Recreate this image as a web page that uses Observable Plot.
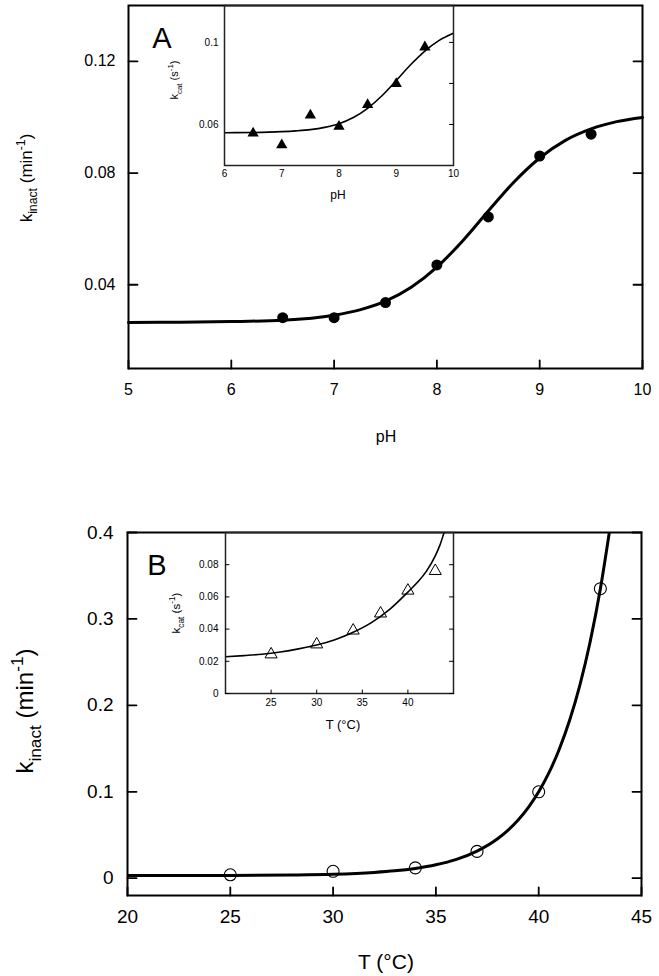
<!DOCTYPE html>
<html><head><meta charset="utf-8">
<script src="https://cdn.jsdelivr.net/npm/d3@7"></script>
<script src="https://cdn.jsdelivr.net/npm/@observablehq/plot@0.6"></script>
<style>
body{margin:0;background:#fff;}
#wrap{position:relative;width:659px;height:976px;overflow:hidden;background:#fff;}
#wrap svg{position:absolute;left:0;overflow:visible;}
</style></head><body><div id="wrap"></div>
<script>
// ---------- Panel A (main): k_inact vs pH ----------
const phA = [6.5, 7, 7.5, 8, 8.5, 9, 9.5];
const kinactA = [0.0282, 0.0282, 0.0336, 0.0471, 0.0643, 0.0861, 0.0939];
const fitPhA = [5, 5.5, 6, 6.5, 7, 7.25, 7.5, 7.75, 8, 8.25, 8.5, 8.75, 9, 9.25, 9.5, 9.75, 10];
const fitKinactA = [0.0265, 0.0266, 0.0268, 0.0273, 0.0291, 0.0310, 0.0341, 0.0391, 0.0463, 0.0557, 0.0664, 0.0768, 0.0854, 0.0917, 0.0958, 0.0984, 0.0999];
const xTicksA = [5, 6, 7, 8, 9, 10];
const yTicksA = [0.04, 0.08, 0.12];

// ---------- Panel A (inset): k_cat vs pH ----------
const phInsetA = [6.5, 7, 7.5, 8, 8.5, 9, 9.5];
const kcatA = [0.0557, 0.0500, 0.0645, 0.0590, 0.0696, 0.0798, 0.0977];
const fitPhInsetA = [6, 6.5, 7, 7.25, 7.5, 7.75, 8, 8.25, 8.5, 8.75, 9, 9.25, 9.5, 9.75, 10];
const fitKcatA = [0.0560, 0.0561, 0.0565, 0.0569, 0.0575, 0.0586, 0.0604, 0.0634, 0.0679, 0.0740, 0.0814, 0.0891, 0.0958, 0.1010, 0.1045];
const xTicksInsetA = [6, 7, 8, 9, 10];
const yTicksInsetA = [0.06, 0.08, 0.1];
const yLabelsInsetA = ["0.06", "", "0.1"];

// ---------- Panel B (main): k_inact vs T ----------
const tB = [25, 30, 34, 37, 40, 43];
const kinactB = [0.004, 0.008, 0.012, 0.031, 0.100, 0.335];
const fitTB = [20, 25, 28, 30, 32, 33, 34, 35, 36, 37, 38, 38.5, 39, 39.5, 40, 40.5, 41, 41.5, 42, 42.5, 43, 43.5];
const fitKinactB = [0.0030, 0.0032, 0.0037, 0.0046, 0.0067, 0.0085, 0.0113, 0.0155, 0.0218, 0.0314, 0.0457, 0.0554, 0.0674, 0.0820, 0.1000, 0.1221, 0.1492, 0.1824, 0.2232, 0.2733, 0.3349, 0.4104];
const xTicksB = [20, 25, 30, 35, 40, 45];
const yTicksB = [0, 0.1, 0.2, 0.3, 0.4];

// ---------- Panel B (inset): k_cat vs T ----------
const tInsetB = [25, 30, 34, 37, 40, 43];
const kcatB = [0.0243, 0.0305, 0.0391, 0.0497, 0.0639, 0.0761];
const fitTInsetB = [20, 22, 24, 26, 28, 30, 32, 34, 36, 38, 40, 41, 42, 43, 43.5, 44, 44.5];
const fitKcatB = [0.0228, 0.0235, 0.0244, 0.0258, 0.0277, 0.0301, 0.0334, 0.0380, 0.0440, 0.0522, 0.0630, 0.0688, 0.0757, 0.0855, 0.0920, 0.1005, 0.1090];
const xTicksInsetB = [25, 30, 35, 40];
const yTicksInsetB = [0, 0.02, 0.04, 0.06, 0.08];

const zip = (xs, ys) => xs.map((x, i) => ({x, y: ys[i]}));
const FONT = "'Liberation Sans', Arial, Helvetica, sans-serif";
const wrap = document.getElementById("wrap");
function place(svg, top) { svg.style.top = top + "px"; wrap.appendChild(svg); return svg; }
const baseStyle = {fontFamily: FONT, background: "transparent", color: "#000", overflow: "visible"};

// inward tick marks as short vectors anchored on the frame
const tickLine = {draw(context, l) { context.moveTo(0, 0); context.lineTo(0, -l); }};
function inTicksBottom(ticks, len, sw) {
  return Plot.vector(ticks, {x: d => d, frameAnchor: "bottom", length: len, rotate: 0, anchor: "start", shape: tickLine, stroke: "#000", strokeWidth: sw});
}
function inTicksLeft(ticks, len, sw) {
  return Plot.vector(ticks, {y: d => d, frameAnchor: "left", length: len, rotate: 90, anchor: "start", shape: tickLine, stroke: "#000", strokeWidth: sw});
}
function inTicksRight(ticks, len, sw) {
  return Plot.vector(ticks, {y: d => d, frameAnchor: "right", length: len, rotate: -90, anchor: "start", shape: tickLine, stroke: "#000", strokeWidth: sw});
}

function richText(svg, {x, y, rotate = 0, size, anchor = "middle", parts}) {
  const t = d3.select(svg).append("text")
    .attr("transform", `translate(${x},${y}) rotate(${rotate})`)
    .attr("text-anchor", anchor)
    .attr("font-family", FONT)
    .attr("font-size", size)
    .attr("fill", "#000");
  let cur = 0;
  for (const [s, kind] of parts) {
    const target = kind === "sub" ? 0.32 * size : kind === "sup" ? -0.42 * size : 0;
    t.append("tspan")
      .attr("dy", target - cur)
      .attr("font-size", kind ? size * 0.72 : size)
      .text(s);
    cur = target;
  }
  return t;
}

// ===== Main A =====
const mainA = place(Plot.plot({
  width: 659, height: 460,
  marginLeft: 128, marginRight: 17, marginTop: 5, marginBottom: 92,
  style: baseStyle,
  x: {domain: [5, 10]},
  y: {domain: [0.01, 0.14]},
  marks: [
    Plot.line(zip(fitPhA, fitKinactA), {x: "x", y: "y", stroke: "#000", strokeWidth: 3, curve: "monotone-x"}),
    Plot.dot(zip(phA, kinactA), {x: "x", y: "y", r: 5.5, fill: "#000", stroke: "none"}),
    Plot.frame({stroke: "#000", strokeWidth: 2}),
    inTicksBottom(xTicksA, 8, 1.8),
    inTicksLeft(yTicksA, 9, 1.8),
    inTicksRight(yTicksA, 9, 1.8),
    Plot.axisX({anchor: "bottom", ticks: xTicksA, tickSize: 0, tickPadding: 15, fontSize: 16, label: null, tickFormat: d => String(d)}),
    Plot.axisY({anchor: "left", ticks: yTicksA, tickSize: 0, tickPadding: 13, fontSize: 16, label: null, tickFormat: d => String(d)})
  ]
}), 0);
richText(mainA, {x: 32, y: 178, rotate: -90, size: 17, parts: [["k"], ["inact", "sub"], [" (min"], ["-1", "sup"], [")"]]});
richText(mainA, {x: 386, y: 442, size: 16, parts: [["pH"]]});
richText(mainA, {x: 162, y: 48, size: 29, parts: [["A"]]});

// ===== Inset A =====
const insetA = place(Plot.plot({
  width: 659, height: 460,
  marginLeft: 224, marginRight: 206, marginTop: 5, marginBottom: 295,
  style: baseStyle,
  x: {domain: [6, 10]},
  y: {domain: [0.04, 0.118]},
  marks: [
    Plot.line(zip(fitPhInsetA, fitKcatA), {x: "x", y: "y", stroke: "#000", strokeWidth: 1.6, curve: "monotone-x", clip: true}),
    Plot.dot(zip(phInsetA, kcatA), {x: "x", y: "y", symbol: "triangle", r: 4.2, fill: "#000", stroke: "none"}),
    Plot.frame({stroke: "#222", strokeWidth: 1.5}),
    inTicksRight(yTicksInsetA, 4, 1),
    Plot.axisX({anchor: "bottom", ticks: xTicksInsetA, tickSize: 0, tickPadding: 4, fontSize: 10, label: null, tickFormat: d => String(d)}),
    Plot.axisY({anchor: "left", ticks: yTicksInsetA, tickSize: 0, tickPadding: 6, fontSize: 10, label: null, tickFormat: (d, i) => yLabelsInsetA[i]})
  ]
}), 0);
richText(insetA, {x: 178, y: 80, rotate: -90, size: 11, parts: [["k"], ["cat", "sub"], [" (s"], ["-1", "sup"], [")"]]});
richText(insetA, {x: 338, y: 199, size: 12, parts: [["pH"]]});

// ===== Main B =====
const mainB = place(Plot.plot({
  width: 659, height: 516,
  marginLeft: 127, marginRight: 18, marginTop: 72, marginBottom: 81,
  style: baseStyle,
  x: {domain: [20, 45]},
  y: {domain: [-0.02, 0.4]},
  marks: [
    Plot.line(zip(fitTB, fitKinactB), {x: "x", y: "y", stroke: "#000", strokeWidth: 3, curve: "monotone-x", clip: true}),
    Plot.dot(zip(tB, kinactB), {x: "x", y: "y", r: 6, fill: "none", stroke: "#000", strokeWidth: 1.1}),
    Plot.frame({stroke: "#000", strokeWidth: 2}),
    inTicksBottom(xTicksB, 8, 1.8),
    inTicksLeft(yTicksB, 9, 1.8),
    inTicksRight(yTicksB, 9, 1.8),
    Plot.axisX({anchor: "bottom", ticks: xTicksB, tickSize: 0, tickPadding: 14, fontSize: 19, label: null, tickFormat: d => String(d)}),
    Plot.axisY({anchor: "left", ticks: yTicksB, tickSize: 0, tickPadding: 14, fontSize: 19, label: null, tickFormat: d => String(d)})
  ]
}), 460);
richText(mainB, {x: 33, y: 251, rotate: -90, size: 24, parts: [["k"], ["inact", "sub"], [" (min"], ["-1", "sup"], [")"]]});
richText(mainB, {x: 386, y: 509, size: 21, parts: [["T (°C)"]]});
richText(mainB, {x: 157, y: 115, size: 29, parts: [["B"]]});

// ===== Inset B =====
const insetB = place(Plot.plot({
  width: 659, height: 516,
  marginLeft: 225, marginRight: 206, marginTop: 72, marginBottom: 283,
  style: baseStyle,
  x: {domain: [20, 45]},
  y: {domain: [0, 0.1]},
  marks: [
    Plot.line(zip(fitTInsetB, fitKcatB), {x: "x", y: "y", stroke: "#000", strokeWidth: 1.6, curve: "monotone-x", clip: true}),
    Plot.dot(zip(tInsetB, kcatB), {x: "x", y: "y", symbol: "triangle", r: 4.5, fill: "none", stroke: "#000", strokeWidth: 1}),
    Plot.frame({stroke: "#222", strokeWidth: 1.5}),
    inTicksBottom(xTicksInsetB, 3.5, 1),
    inTicksLeft(yTicksInsetB, 3.5, 1),
    inTicksRight(yTicksInsetB, 4, 1),
    Plot.axisX({anchor: "bottom", ticks: xTicksInsetB, tickSize: 0, tickPadding: 5, fontSize: 10, label: null, tickFormat: d => String(d)}),
    Plot.axisY({anchor: "left", ticks: yTicksInsetB, tickSize: 0, tickPadding: 7, fontSize: 10, label: null, tickFormat: d => String(d)})
  ]
}), 460);
richText(insetB, {x: 180, y: 153, rotate: -90, size: 11.5, parts: [["k"], ["cat", "sub"], [" (s"], ["-1", "sup"], [")"]]});
richText(insetB, {x: 343, y: 269, size: 13, parts: [["T (°C)"]]});
</script>
</body></html>
